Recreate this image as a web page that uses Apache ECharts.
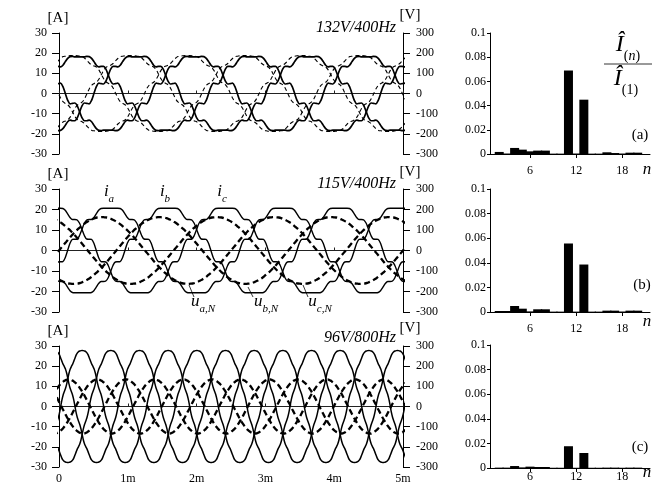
<!DOCTYPE html>
<html><head><meta charset="utf-8">
<script src="https://cdn.jsdelivr.net/npm/echarts@6/dist/echarts.min.js"></script>
<style>html,body{margin:0;padding:0;background:#fff}#c{width:653px;height:492px}</style>
</head><body><div id="c"></div>
<script>
// ---- time axis ----
const timeTicks = [0, 1, 2, 3, 4, 5];
const timeLabels = ['0', '1m', '2m', '3m', '4m', '5m'];
// one-period waveform shapes, 5 deg steps from the crest (72 samples)
const topCurrent = [18.2,18.2,18.2,18.4,18.3,17.4,15.8,14.0,13.2,13.5,13.5,12.1,9.1,6.1,4.7,4.9,5.1,3.4,0,
 -3.4,-5.1,-4.9,-4.7,-6.1,-9.1,-12.1,-13.5,-13.5,-13.2,-14.0,-15.8,-17.4,-18.3,-18.4,-18.2,-18.2,-18.2,
 -18.2,-18.2,-18.4,-18.3,-17.4,-15.8,-14.0,-13.2,-13.5,-13.5,-12.1,-9.1,-6.1,-4.7,-4.9,-5.1,-3.4,0,
 3.4,5.1,4.9,4.7,6.1,9.1,12.1,13.5,13.5,13.2,14.0,15.8,17.4,18.3,18.4,18.2,18.2];
const topVoltage = [188,188,187,185,183,175,163,150,141,136,130,116,94,72,57,50,42,25,0,
 -25,-42,-50,-57,-72,-94,-116,-130,-136,-141,-150,-163,-175,-183,-185,-187,-188,-188,
 -188,-187,-185,-183,-175,-163,-150,-141,-136,-130,-116,-94,-72,-57,-50,-42,-25,0,
 25,42,50,57,72,94,116,130,136,141,150,163,175,183,185,187,188];
const midCurrent = [20.6,20.6,20.6,20.6,20.5,19.6,17.9,16.1,15.1,15.1,14.9,13.3,10.3,7.3,5.6,5.5,5.4,3.5,0,
 -3.5,-5.4,-5.5,-5.6,-7.3,-10.3,-13.3,-14.9,-15.1,-15.1,-16.1,-17.9,-19.6,-20.5,-20.6,-20.6,-20.6,-20.6,
 -20.6,-20.6,-20.6,-20.5,-19.6,-17.9,-16.1,-15.1,-15.1,-14.9,-13.3,-10.3,-7.3,-5.6,-5.5,-5.4,-3.5,0,
 3.5,5.4,5.5,5.6,7.3,10.3,13.3,14.9,15.1,15.1,16.1,17.9,19.6,20.5,20.6,20.6,20.6];
const midVoltage = [163,162,161,158,153,148,141,134,125,115,105,94,82,69,56,42,28,14,0,
 -14,-28,-42,-56,-69,-82,-94,-105,-115,-125,-134,-141,-148,-153,-158,-161,-162,-163,
 -162,-161,-158,-153,-148,-141,-134,-125,-115,-105,-94,-82,-69,-56,-42,-28,-14,0,
 14,28,42,56,69,82,94,105,115,125,134,141,148,153,158,161,162];
const botCurrent = [27.8,27.7,27.5,27.2,26.6,25.6,24.1,22.5,21.0,19.9,18.6,16.6,13.9,11.1,8.9,7.3,5.6,3.2,0,
 -3.2,-5.6,-7.3,-8.9,-11.1,-13.9,-16.6,-18.6,-19.9,-21.0,-22.5,-24.1,-25.6,-26.6,-27.2,-27.5,-27.7,-27.8,
 -27.7,-27.5,-27.2,-26.6,-25.6,-24.1,-22.5,-21.0,-19.9,-18.6,-16.6,-13.9,-11.1,-8.9,-7.3,-5.6,-3.2,0,
 3.2,5.6,7.3,8.9,11.1,13.9,16.6,18.6,19.9,21.0,22.5,24.1,25.6,26.6,27.2,27.5,27.7];
const botVoltage = [134,134,132,129,126,121,116,110,103,95,86,77,67,57,46,35,23,12,0,
 -12,-23,-35,-46,-57,-67,-77,-86,-95,-103,-110,-116,-121,-126,-129,-132,-134,-134,
 -134,-132,-129,-126,-121,-116,-110,-103,-95,-86,-77,-67,-57,-46,-35,-23,-12,0,
 12,23,35,46,57,67,77,86,95,103,110,116,121,126,129,132,134];
// crest times (ms) of the three phases, and periods (ms)
const topPeriod = 2.5, midPeriod = 2.5, botPeriod = 1.25;
const topCurrentCrests = [0.30, 1.133, 1.967];
const topVoltageCrests = [0.20, 1.033, 1.867];
const midCurrentCrests = [0.75, 1.583, 2.417];
const midVoltageCrests = [0.625, 1.458, 2.292];
const botCurrentCrests = [0.337, 0.753, 1.17];
const botVoltageCrests = [0.14, 0.557, 0.973];
// ---- harmonic spectra ----
const harmOrder = [2,3,4,5,6,7,8,9,10,11,12,13,14,15,16,17,18,19,20];
const harmA = [0.0017,0.0004,0.0050,0.0036,0.0022,0.0028,0.0028,0.0003,0.0003,0.0690,0.0004,0.0449,0.0003,0.0003,0.0014,0.0008,0.0004,0.0011,0.0011];
const harmB = [0.0008,0.0008,0.0049,0.0027,0.0005,0.0022,0.0022,0.0003,0.0003,0.0557,0.0003,0.0386,0.0003,0.0003,0.0011,0.0011,0.0004,0.0011,0.0011];
const harmC = [0.0003,0.0003,0.0016,0.0005,0.0011,0.0008,0.0008,0.0002,0.0002,0.0177,0.0002,0.0122,0.0002,0.0002,0.0003,0.0003,0.0002,0.0003,0.0003];
const harmTicks = [6, 12, 18];
const titles = ['132V/400Hz', '115V/400Hz', '96V/800Hz'];

function wave(tpl, period, crest) {
  const n = tpl.length, step = period / n, out = [];
  const k0 = Math.floor((-0.1 - crest) / step), k1 = Math.ceil((5.1 - crest) / step);
  for (let k = k0; k <= k1; k++) out.push([crest + k * step, tpl[((k % n) + n) % n]]);
  return out;
}

const FONT = 'Liberation Serif';
const chart = echarts.init(document.getElementById('c'), null, {renderer: 'canvas'});
const tops = [33, 189, 346], heights = [121, 123, 121];
const barTops = [33, 189, 345], barHeights = [121, 123, 123];
const grid = [], xAxis = [], yAxis = [], series = [];
const blk = {color: '#000', width: 1};
const lbl = {color: '#000', fontFamily: FONT, fontSize: 12};
for (let p = 0; p < 3; p++) {
  grid.push({left: 59, width: 344, top: tops[p], height: heights[p]});
}
for (let p = 0; p < 3; p++) {
  grid.push({left: 490, width: 160, top: barTops[p], height: barHeights[p]});
}
// time x axes (zero line)
for (let p = 0; p < 3; p++) {
  xAxis.push({type: 'value', gridIndex: p, min: 0, max: 5, interval: 1, position: 'bottom',
    axisLine: {onZero: true, lineStyle: {color: '#222', width: 1}},
    axisTick: {show: true, length: 3, inside: true, lineStyle: {color: '#222'}},
    axisLabel: {show: false}, splitLine: {show: false}});
}
// bottom labels axis
xAxis.push({type: 'value', gridIndex: 2, min: 0, max: 5, interval: 1, position: 'bottom',
  axisLine: {show: false, onZero: false}, axisTick: {show: false}, splitLine: {show: false},
  axisLabel: Object.assign({margin: 6, formatter: v => timeLabels[timeTicks.indexOf(v)]}, lbl)});
// bar x axes
for (let p = 0; p < 3; p++) {
  xAxis.push({type: 'value', gridIndex: 3 + p, min: 0.8, max: 21.6,
    axisLine: {onZero: false, lineStyle: blk},
    axisTick: {show: true, length: 4, customValues: harmTicks, lineStyle: blk},
    axisLabel: Object.assign({customValues: harmTicks, margin: p === 2 ? 3 : 11}, lbl),
    splitLine: {show: false}});
}
for (let p = 0; p < 3; p++) {
  yAxis.push({type: 'value', gridIndex: p, min: -30, max: 30, interval: 10, position: 'left',
    axisLine: {show: true, onZero: false, lineStyle: blk}, axisTick: {show: true, length: 7, lineStyle: blk},
    axisLabel: Object.assign({margin: 12}, lbl), splitLine: {show: false}});
  yAxis.push({type: 'value', gridIndex: p, min: -300, max: 300, interval: 100, position: 'right',
    axisLine: {show: true, onZero: false, lineStyle: blk}, axisTick: {show: true, length: 7, lineStyle: blk},
    axisLabel: Object.assign({margin: 13}, lbl), splitLine: {show: false}});
}
for (let p = 0; p < 3; p++) {
  yAxis.push({type: 'value', gridIndex: 3 + p, min: 0, max: 0.1, interval: 0.02,
    axisLine: {show: true, onZero: false, lineStyle: blk}, axisTick: {show: true, length: 3, lineStyle: blk},
    axisLabel: Object.assign({margin: 4, formatter: v => v === 0 ? '0' : String(+v.toFixed(2))}, lbl),
    splitLine: {show: false}});
}
const panels = [
  {I: topCurrent, U: topVoltage, T: topPeriod, ci: topCurrentCrests, cu: topVoltageCrests, uw: 1.1, ud: [4, 3], iw: 1.7},
  {I: midCurrent, U: midVoltage, T: midPeriod, ci: midCurrentCrests, cu: midVoltageCrests, uw: 2.3, ud: [6, 3.5], iw: 1.4},
  {I: botCurrent, U: botVoltage, T: botPeriod, ci: botCurrentCrests, cu: botVoltageCrests, uw: 2.3, ud: [6, 3.5], iw: 1.5}
];
panels.forEach((pn, p) => {
  pn.cu.forEach(c => series.push({type: 'line', xAxisIndex: p, yAxisIndex: 2 * p + 1, data: wave(pn.U, pn.T, c),
    symbol: 'none', smooth: 0.3, clip: true, lineStyle: {color: '#000', width: pn.uw, type: pn.ud}, silent: true}));
  pn.ci.forEach(c => series.push({type: 'line', xAxisIndex: p, yAxisIndex: 2 * p, data: wave(pn.I, pn.T, c),
    symbol: 'none', smooth: 0.3, clip: true, lineStyle: {color: '#000', width: pn.iw}, silent: true}));
});
[harmA, harmB, harmC].forEach((h, p) => {
  series.push({type: 'bar', xAxisIndex: 4 + p, yAxisIndex: 6 + p, barWidth: 9,
    data: harmOrder.map((n, i) => [n, h[i]]), itemStyle: {color: '#000'}, silent: true});
});

const txt = (x, y, text, o) => ({type: 'text', x, y, style: Object.assign({text, fill: '#000', fontFamily: FONT, fontSize: 15, align: 'center', verticalAlign: 'middle'}, o || {})});
const sub = (x, y, main, s) => ({type: 'text', x, y, style: {
  text: '{m|' + main + '}{s|' + s + '}', fill: '#000', fontFamily: FONT, align: 'center', verticalAlign: 'middle',
  rich: {m: {fontFamily: FONT, fontStyle: 'italic', fontSize: 17, padding: [0, 0, 5, 0], verticalAlign: 'top'},
         s: {fontFamily: FONT, fontStyle: 'italic', fontSize: 11, verticalAlign: 'bottom'}}}});
const line = (x1, y1, x2, y2) => ({type: 'line', shape: {x1, y1, x2, y2}, style: {stroke: '#000', lineWidth: 0.8}});
const graphic = [];
[18, 174, 331].forEach(y => graphic.push(txt(58, y, '[A]')));
[15, 172, 328].forEach(y => graphic.push(txt(410, y, '[V]')));
[28, 184, 338].forEach((y, i) => graphic.push(txt(396, y, titles[i], {align: 'right', fontStyle: 'italic', fontSize: 16})));
graphic.push(txt(640, 135, '(a)'), txt(642, 285, '(b)'), txt(640, 447, '(c)'));
[170, 322, 473].forEach(y => graphic.push(txt(647, y, 'n', {fontStyle: 'italic', fontSize: 17})));
graphic.push({type: 'text', x: 628, y: 48, style: {text: '{I|Î}{s|(}{n|n}{s|)}', fill: '#000', align: 'center', verticalAlign: 'middle',
  rich: {I: {fontFamily: FONT, fontStyle: 'italic', fontSize: 24, padding: [0, 0, 6, 0], verticalAlign: 'top'},
         s: {fontFamily: FONT, fontSize: 14, verticalAlign: 'bottom'}, n: {fontFamily: FONT, fontStyle: 'italic', fontSize: 14, verticalAlign: 'bottom'}}}});
graphic.push(line(604, 64, 652, 64));
graphic.push({type: 'text', x: 626, y: 82, style: {text: '{I|Î}{s|(1)}', fill: '#000', align: 'center', verticalAlign: 'middle',
  rich: {I: {fontFamily: FONT, fontStyle: 'italic', fontSize: 24, padding: [0, 0, 6, 0], verticalAlign: 'top'},
         s: {fontFamily: FONT, fontSize: 14, verticalAlign: 'bottom'}}}});
graphic.push(sub(109, 194, 'i', 'a'), sub(165, 194, 'i', 'b'), sub(222, 194, 'i', 'c'));
graphic.push(sub(203, 304, 'u', 'a,N'), sub(266, 304, 'u', 'b,N'), sub(320, 304, 'u', 'c,N'));
graphic.push(line(189, 285, 194, 297), line(248, 287, 253, 297), line(303, 285, 308, 297));

chart.setOption({animation: false, backgroundColor: '#fff', grid, xAxis, yAxis, series, graphic});
</script></body></html>
